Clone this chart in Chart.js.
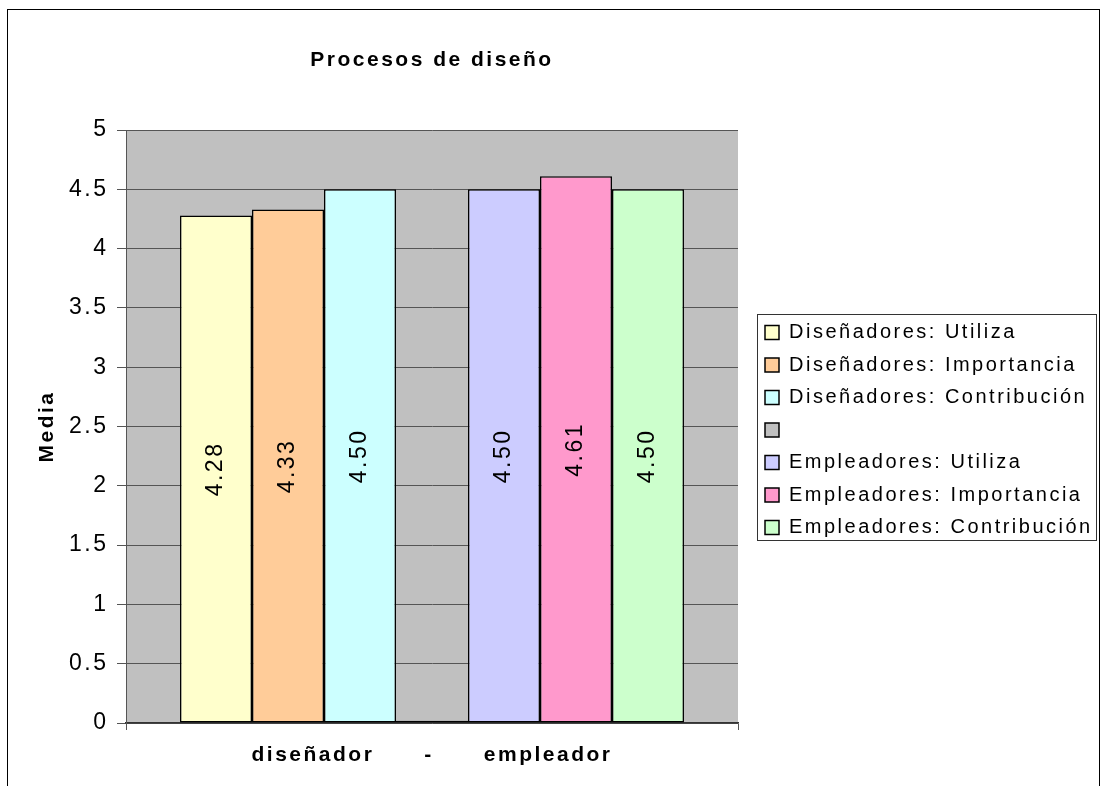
<!DOCTYPE html>
<html>
<head>
<meta charset="utf-8">
<script src="https://cdn.jsdelivr.net/npm/chart.js@4.4.1/dist/chart.umd.min.js"></script>
<style>
  html, body { margin: 0; padding: 0; background: #fff; }
  canvas { display: block; }
</style>
</head>
<body>
<canvas id="chart" width="1101" height="786"></canvas>
<script>
// data
const categories = ['diseñador      -      empleador'];
const seriesNames = [
  'Diseñadores: Utiliza',
  'Diseñadores: Importancia',
  'Diseñadores: Contribución',
  '',
  'Empleadores: Utiliza',
  'Empleadores: Importancia',
  'Empleadores: Contribución'
];
const seriesValues = [4.28, 4.33, 4.50, 0.02, 4.50, 4.61, 4.50];
const yTickLabels = ['0', '0.5', '1', '1.5', '2', '2.5', '3', '3.5', '4', '4.5', '5'];

const seriesColors = ['#FFFFCC', '#FFCC99', '#CCFFFF', '#C0C0C0', '#CCCCFF', '#FF99CC', '#CCFFCC'];
const FONT = '"Liberation Sans", Arial, sans-serif';
const PLOT_RIGHT = 738;

Chart.defaults.font.family = FONT;
Chart.defaults.color = '#000';

// excel-ish wide text
const spacing = {
  id: 'spacing',
  beforeUpdate(chart) { chart.ctx.letterSpacing = '2.5px'; },
  beforeDraw(chart) { chart.ctx.letterSpacing = '2.5px'; }
};

const plotBg = {
  id: 'plotBg',
  beforeDraw(chart) {
    const { ctx, chartArea: a } = chart;
    ctx.save();
    ctx.fillStyle = '#C0C0C0';
    ctx.fillRect(a.left, a.top, a.right - a.left, a.bottom - a.top);
    ctx.restore();
  }
};

// keep plot right edge fixed and put the legend just right of it
const legendPlacer = {
  id: 'legendPlacer',
  beforeLayout(chart) {
    const lg = chart.legend;
    if (!lg._widthPatched) {
      const fit = lg.fit;
      lg.fit = function () {
        fit.call(this);
        this.width = chart.width - PLOT_RIGHT - 11;
      };
      lg._widthPatched = true;
    }
  },
  afterLayout(chart) {
    const lg = chart.legend;
    const dx = chart.chartArea.right + 27 - (lg.left + lg.options.labels.padding);
    lg.left += dx;
    lg.right = chart.width;
    lg.width = lg.right - lg.left;
    lg.top += 3.5;
    lg.bottom += 3.5;
  }
};

const barLabels = {
  id: 'barLabels',
  afterDatasetsDraw(chart) {
    const ctx = chart.ctx;
    chart.data.datasets.forEach((ds, i) => {
      if (!ds.label) return;
      chart.getDatasetMeta(i).data.forEach((bar, j) => {
        ctx.save();
        ctx.translate(bar.x, (bar.y + bar.base) / 2);
        ctx.rotate(-Math.PI / 2);
        ctx.font = '23px ' + FONT;
        ctx.fillStyle = '#000';
        ctx.textAlign = 'center';
        ctx.textBaseline = 'middle';
        ctx.fillText(ds.data[j].toFixed(2), 0, 0);
        ctx.restore();
      });
    });
  }
};

const frame = {
  id: 'frame',
  afterDraw(chart) {
    const ctx = chart.ctx;
    const lg = chart.legend;
    const boxes = lg.legendHitBoxes;
    ctx.save();
    ctx.strokeStyle = '#000';
    ctx.lineWidth = 1;
    ctx.strokeRect(7.5, 9.5, 1092, 800);
    // legend border
    const first = boxes[0], last = boxes[boxes.length - 1];
    const top = Math.round(first.top + first.height / 2 - 19) + 0.5;
    const bottom = Math.round(last.top + last.height / 2 + 12) + 0.5;
    const left = Math.round(lg.left + lg.options.labels.padding - 8) + 0.5;
    ctx.strokeStyle = '#333';
    ctx.strokeRect(left, top, 1096.5 - left, bottom - top);
    ctx.restore();
  }
};

const datasets = seriesNames.map((name, i) => ({
  label: name,
  data: [seriesValues[i]],
  backgroundColor: seriesColors[i],
  borderColor: '#000',
  borderWidth: 1.5,
  borderSkipped: false
}));

new Chart(document.getElementById('chart'), {
  type: 'bar',
  data: { labels: categories, datasets: datasets },
  plugins: [spacing, plotBg, legendPlacer, barLabels, frame],
  options: {
    responsive: false,
    animation: false,
    devicePixelRatio: 1,
    datasets: { bar: { categoryPercentage: 0.8235, barPercentage: 1 } },
    layout: { padding: { top: 0, left: 10, right: 11, bottom: 18 } },
    plugins: {
      title: {
        display: true,
        text: 'Procesos de diseño',
        fullSize: false,
        font: { size: 21, weight: 'bold' },
        padding: { top: 47.4, bottom: 57.4 }
      },
      legend: {
        position: 'right',
        align: 'center',
        fullSize: false,
        labels: { boxWidth: 14, boxHeight: 14, padding: 12.5, font: { size: 20 } }
      },
      tooltip: { enabled: false }
    },
    scales: {
      x: {
        offset: true,
        ticks: { font: { size: 21, weight: 'bold' }, padding: 12.4 },
        grid: { offset: true, drawOnChartArea: false, tickLength: 7, color: '#555' },
        border: { color: '#333', width: 1.5 },
        afterFit(s) { s.height = 45; }
      },
      y: {
        min: 0,
        max: 5,
        ticks: { stepSize: 0.5, font: { size: 23 }, padding: 8.5, callback: (v, i) => yTickLabels[i] },
        grid: { color: '#555', tickLength: 9 },
        border: { color: '#555' },
        title: { display: true, text: 'Media', font: { size: 21, weight: 'bold' }, padding: { top: 25, bottom: 0 } },
        afterFit(s) { s.width = 116; }
      }
    }
  }
});
</script>
</body>
</html>
